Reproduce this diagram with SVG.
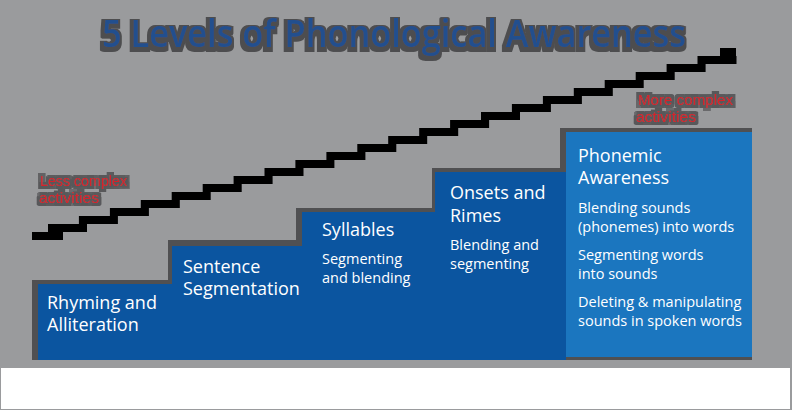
<svg xmlns="http://www.w3.org/2000/svg" width="792" height="410" viewBox="0 0 792 410">
<defs>
<style>
.bg{fill:#9a9b9d}
.sh{fill:#505052}
.dk{fill:#0b55a0}
.lt{fill:#1b76bf}
.hd{font-family:"Open Sans","Noto Sans",sans-serif;font-size:18px;fill:#ffffff}
.sb{font-family:"Open Sans","Noto Sans",sans-serif;font-size:14.5px;fill:#ffffff}
.rd{font-family:"Liberation Sans",Arial,sans-serif;font-size:14.5px;fill:#d4202a}
.tt{font-family:"Open Sans","Noto Sans",sans-serif;font-size:38px;font-weight:600;fill:#234f8e}
</style>
<filter id="halo" x="-10%" y="-30%" width="120%" height="160%">
<feMorphology in="SourceAlpha" operator="dilate" radius="3 2.5" result="d"/>
<feOffset in="d" dx="-1" dy="2" result="o"/>
<feFlood flood-color="#4d4d4f"/>
<feComposite in2="o" operator="in" result="s"/>
<feMerge><feMergeNode in="s"/><feMergeNode in="SourceGraphic"/></feMerge>
</filter>
<filter id="halo2" x="-10%" y="-30%" width="120%" height="160%">
<feMorphology in="SourceAlpha" operator="dilate" radius="3 2.5" result="d"/>
<feFlood flood-color="#58585a"/>
<feComposite in2="d" operator="in" result="s"/>
<feMerge><feMergeNode in="s"/><feMergeNode in="SourceGraphic"/></feMerge>
</filter>
</defs>
<rect class="bg" x="0" y="0" width="792" height="410"/>
<rect x="1" y="368" width="789" height="41" fill="#ffffff"/>

<g id="title" filter="url(#halo)">
<text class="tt" x="102" y="47" textLength="584" lengthAdjust="spacingAndGlyphs">5 Levels of Phonological Awareness</text>
</g>

<g id="staircase" fill="#000000">
<path d="M32 232h31v8h-31z M48 224h39v8h-39z M78.9 216h39v8h-39z M109.9 208h39v8h-39z M140.8 200h39v8h-39z M171.7 192h39v8h-39z M202.7 184h39v8h-39z M233.6 176h39v8h-39z M264.5 168h39v8h-39z M295.4 160h39v8h-39z M326.4 152h39v8h-39z M357.3 144h39v8h-39z M388.2 136h39v8h-39z M419.2 128h39v8h-39z M450.1 120h39v8h-39z M481 112h39v8h-39z M511.9 104h39v8h-39z M542.9 96h39v8h-39z M573.8 88h39v8h-39z M604.7 80h39v8h-39z M635.7 72h39v8h-39z M666.6 64h39v8h-39z M697.5 56h39v8h-39z M720 48h16v16h-16z"/>
</g>

<g id="label-less" filter="url(#halo2)">
<text class="rd" x="40" y="186" textLength="87" lengthAdjust="spacingAndGlyphs">Less complex</text>
<text class="rd" x="39" y="203" textLength="60" lengthAdjust="spacingAndGlyphs">activities</text>
</g>
<g id="label-more" filter="url(#halo2)">
<text class="rd" x="638" y="105" textLength="95" lengthAdjust="spacingAndGlyphs">More complex</text>
<text class="rd" x="636" y="122" textLength="60" lengthAdjust="spacingAndGlyphs">activities</text>
</g>

<g id="level1">
<rect class="sh" x="32" y="280" width="140" height="80"/>
<rect class="dk" x="38" y="284" width="134" height="76"/>
<text class="hd" x="47" y="309">Rhyming and</text>
<text class="hd" x="47" y="331">Alliteration</text>
</g>
<g id="level2">
<rect class="sh" x="168" y="240" width="134" height="44"/>
<rect class="dk" x="172" y="246" width="130" height="114"/>
<text class="hd" x="183" y="273">Sentence</text>
<text class="hd" x="183" y="295">Segmentation</text>
</g>
<g id="level3">
<rect class="sh" x="296" y="208" width="139" height="38"/>
<rect class="dk" x="302" y="212" width="133" height="148"/>
<text class="hd" x="322" y="236">Syllables</text>
<text class="sb" x="322" y="264">Segmenting</text>
<text class="sb" x="322" y="283">and blending</text>
</g>
<g id="level4">
<rect class="sh" x="432" y="168" width="134" height="44"/>
<rect class="dk" x="435" y="172" width="131" height="188"/>
<text class="hd" x="450" y="199">Onsets and</text>
<text class="hd" x="450" y="222">Rimes</text>
<text class="sb" x="450" y="250">Blending and</text>
<text class="sb" x="450" y="269">segmenting</text>
</g>
<g id="level5">
<path class="sh" d="M560 128H752V360H566V172H560Z"/>
<rect class="lt" x="566" y="132" width="186" height="225"/>
<text class="hd" x="578" y="162">Phonemic</text>
<text class="hd" x="578" y="184">Awareness</text>
<text class="sb" x="578" y="213">Blending sounds</text>
<text class="sb" x="578" y="232">(phonemes) into words</text>
<text class="sb" x="578" y="260">Segmenting words</text>
<text class="sb" x="578" y="279">into sounds</text>
<text class="sb" x="578" y="307">Deleting &amp; manipulating</text>
<text class="sb" x="578" y="326">sounds in spoken words</text>
</g>
</svg>
